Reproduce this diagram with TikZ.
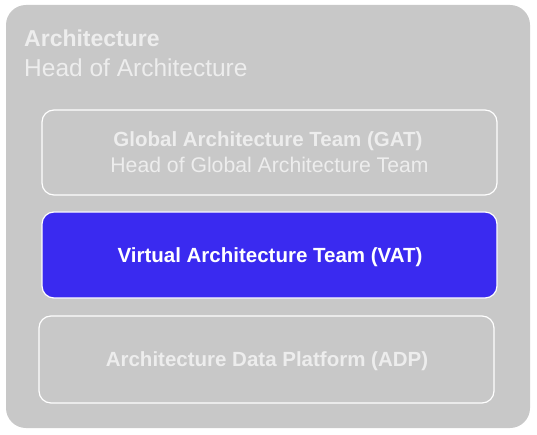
\documentclass[tikz,border=0pt]{standalone}
\usepackage{fontspec}
\setmainfont{Liberation Sans}
\definecolor{outergray}{HTML}{C8C8C8}
\definecolor{txtlight}{HTML}{EDEDED}
\definecolor{vatblue}{HTML}{3A2AF0}
\begin{document}
\begin{tikzpicture}[x=1pt,y=-1pt,
  teambox/.style={draw=white, line width=1.2pt, rounded corners=12pt},
  boldlbl/.style={font=\bfseries\fontsize{20.5}{24}\selectfont, text=txtlight, inner sep=0pt},
  reglbl/.style={font=\fontsize{21.2}{24}\selectfont, text=txtlight, inner sep=0pt}]
\useasboundingbox (0,0) rectangle (537,435);
\fill[white] (0,0) rectangle (537,435);
\fill[outergray, rounded corners=20pt] (6,5) rectangle (530,428);
\node[anchor=base west, font=\bfseries\fontsize{23}{26}\selectfont, text=txtlight, inner sep=0pt] (arch) at (24,47) {Architecture};
\node[anchor=base west, font=\fontsize{24.5}{28}\selectfont, text=txtlight, inner sep=0pt] (head) at (24,77) {Head of Architecture};
\draw[teambox] (42,110) rectangle (497,195);
\node[boldlbl, anchor=base] (gat) at (268,147) {Global Architecture Team (GAT)};
\node[reglbl, anchor=base] (gathead) at (269.5,173) {Head of Global Architecture Team};
\draw[teambox, fill=vatblue] (42,212) rectangle (497,298);
\node[boldlbl, anchor=base] (vat) at (270,262) {\textcolor{white}{Virtual Architecture Team (VAT)}};
\draw[teambox] (39,316) rectangle (494,403);
\node[boldlbl, anchor=base] (adp) at (267,366) {Architecture Data Platform (ADP)};
\end{tikzpicture}
\end{document}
